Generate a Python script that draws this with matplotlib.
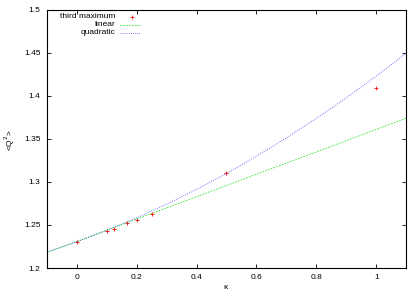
import numpy as np
import matplotlib
matplotlib.use("Agg")
import matplotlib.pyplot as plt
from matplotlib.lines import Line2D

plt.rcParams["font.family"] = ["Liberation Sans", "DejaVu Sans"]

# third maximum data points
kappa = [0.0, 0.1, 0.125, 0.1667, 0.2, 0.25, 0.5, 1.0]
q2 = [1.230, 1.2434, 1.245, 1.252, 1.2558, 1.263, 1.310, 1.409]

# linear fit, read at the plot edges
lin_k = [-0.1, 1.1]
lin_q = [1.2178, 1.374]

# quadratic fit
quad_k = [-0.1, 0.0, 0.1, 0.2, 0.3, 0.4, 0.5, 0.6, 0.7, 0.8, 0.9, 1.0, 1.1]
quad_q = [1.2186, 1.2305, 1.2437, 1.2583, 1.2742, 1.2914, 1.3100,
          1.3299, 1.3512, 1.3738, 1.3978, 1.4230, 1.4497]

xticks = [0, 0.2, 0.4, 0.6, 0.8, 1]
yticks = [1.2, 1.25, 1.3, 1.35, 1.4, 1.45, 1.5]
labels = ["third maximum", "linear", "quadratic"]

W, H = 419, 293
fig = plt.figure(figsize=(W / 100, H / 100), dpi=100)
ax = fig.add_axes([0.1115, 0.0853, 0.858, 0.881])

styles = [
    dict(linestyle="none", marker="+", color="#ff0000", markersize=3,
         markeredgewidth=0.6),
    dict(color="#00dd00", linestyle=(0, (2, 1.5)), linewidth=0.6, alpha=0.8),
    dict(color="#0000ff", linestyle=(0, (1, 1.5)), linewidth=0.6, alpha=0.7),
]

ax.plot(kappa, q2, **styles[0])
ax.plot(lin_k, lin_q, **styles[1])
ax.plot(quad_k, quad_q, **styles[2])

ax.set_xlim(-0.1, 1.1)
ax.set_ylim(1.2, 1.5)
ax.set_xticks(xticks)
ax.set_xticklabels(["0", "0.2", "0.4", "0.6", "0.8", "1"])
ax.set_yticks(yticks)
ax.set_yticklabels(["1.2", "1.25", "1.3", "1.35", "1.4", "1.45", "1.5"])
ax.tick_params(direction="in", top=True, right=True, labelsize=6,
               length=3, width=0.6, pad=4.5)
for s in ax.spines.values():
    s.set_linewidth(0.8)

fig.text(225 / W, 1 - 287.5 / H, "κ", fontsize=6, ha="center", va="center")
fig.text(9.5 / W, 1 - 140 / H, "<Q$^2$>", fontsize=6, rotation=90,
         ha="center", va="center")

# gnuplot style key: right aligned text, sample to the right
rows_y = [0.973, 0.942, 0.911]
for lab, st, yy in zip(labels, styles, rows_y):
    ax.text(0.19, yy, lab, transform=ax.transAxes, ha="right", va="center",
            fontsize=6)
    if st.get("marker"):
        ax.add_line(Line2D([0.237], [yy], transform=ax.transAxes, **st))
    else:
        ax.add_line(Line2D([0.204, 0.262], [yy, yy], transform=ax.transAxes, **st))

fig.savefig("out.png", dpi=100)
